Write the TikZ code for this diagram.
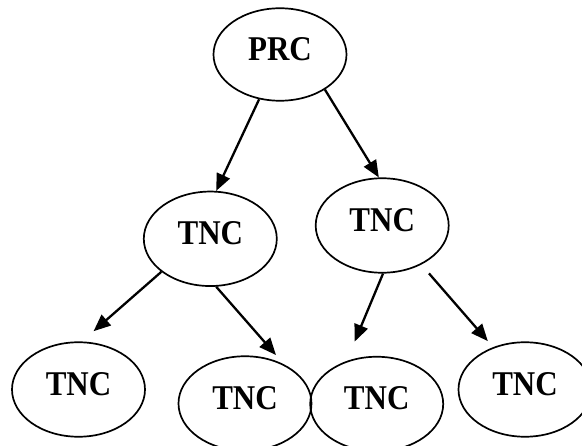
\documentclass[tikz,border=0pt]{standalone}
\usepackage{fontspec}
\setmainfont{Liberation Serif}
\usetikzlibrary{shapes.geometric,arrows.meta}
\newcommand{\nlbl}[1]{\raisebox{5.4pt}[\height][\depth]{\scalebox{1}[1.12]{#1}}}
\begin{document}
\begin{tikzpicture}[x=1pt,y=-1pt,
  oval/.style={ellipse,draw,line width=1.7pt,minimum width=133pt,minimum height=94.5pt,inner sep=0pt,
    font=\fontsize{31}{31}\selectfont\bfseries},
  arr/.style={line width=2.3pt,-{Triangle[length=17pt,width=14pt]}}]
\useasboundingbox (0,0) rectangle (582,446);
\node[oval,minimum height=92.5pt] (prc) at (280,54.5) {\nlbl{PRC}};
\node[oval] (tl) at (210.3,238.8) {\nlbl{TNC}};
\node[oval] (tr) at (382.2,225.5) {\nlbl{TNC}};
\node[oval] (b1) at (78.5,389.5) {\nlbl{TNC}};
\node[oval] (b2) at (245,403.5) {\nlbl{TNC}};
\node[oval] (b3) at (376.7,404) {\nlbl{TNC}};
\node[oval] (b4) at (525,389.5) {\nlbl{TNC}};
\draw[arr] (prc.245.3) -- (tl.83);
\draw[arr] (prc.322.8) -- (tr.94.6);
\draw[arr,shorten >=15.6pt] (tl.214) -- (b1.86.8);
\draw[arr,shorten >=12.4pt] (tl.277.6) -- (b2.45.8);
\draw[arr,shorten >=21pt] (tr.271.3) -- (b3.125);
\draw[arr,shorten <=11.6pt,shorten >=8pt] (tr.315) -- (b4.127);
\end{tikzpicture}
\end{document}
